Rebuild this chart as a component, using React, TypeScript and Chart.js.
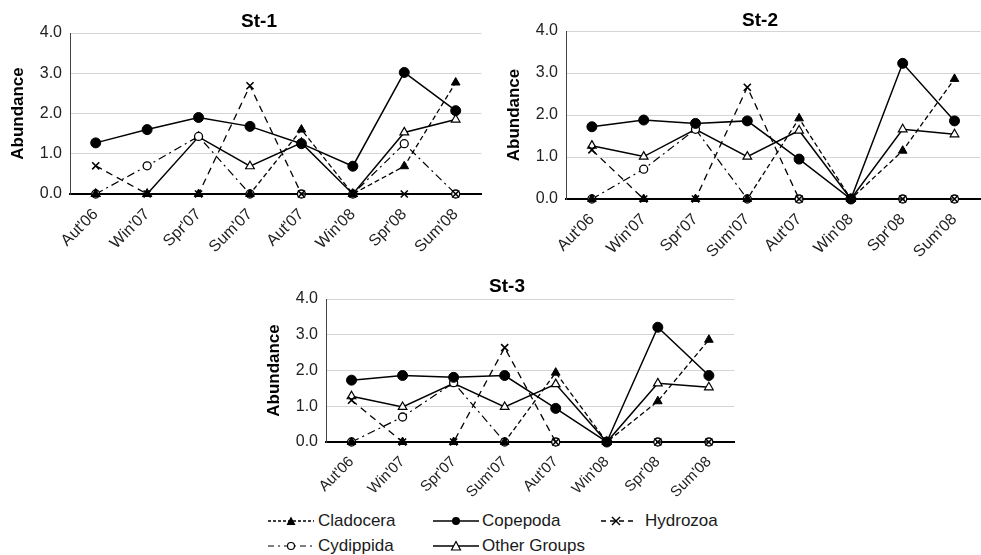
import React, { useEffect, useRef } from "react";
import { Chart, registerables } from "chart.js";
Chart.register(...registerables);

const seasons = ["Aut'06", "Win'07", "Spr'07", "Sum'07", "Aut'07", "Win'08", "Spr'08", "Sum'08"];
const seriesNames = ["Cladocera", "Copepoda", "Hydrozoa", "Cydippida", "Other Groups"];
const yMin = 0;
const yMax = 4;
const yStep = 1;

const st1Cladocera = [0, 0, 0, 0, 1.6, 0, 0.69, 2.77];
const st1Copepoda = [1.27, 1.6, 1.9, 1.68, 1.25, 0.69, 3.02, 2.07];
const st1Hydrozoa = [0.7, 0, 0, 2.69, 0, 0, 0, 0];
const st1Cydippida = [0, 0.7, 1.43, 0, 0, 0, 1.25, 0];
const st1Other = [0, 0, 1.42, 0.69, 1.27, 0, 1.53, 1.85];

const st2Cladocera = [0, 0, 0, 0, 1.92, 0, 1.15, 2.86];
const st2Copepoda = [1.72, 1.88, 1.8, 1.86, 0.95, 0, 3.23, 1.86];
const st2Hydrozoa = [1.17, 0, 0, 2.66, 0, 0, 0, 0];
const st2Cydippida = [0, 0.71, 1.66, 0, 0, 0, 0, 0];
const st2Other = [1.27, 1.01, 1.66, 1.01, 1.63, 0, 1.66, 1.54];

const st3Cladocera = [0, 0, 0, 0, 1.94, 0, 1.14, 2.86];
const st3Copepoda = [1.73, 1.86, 1.81, 1.86, 0.94, 0, 3.21, 1.86];
const st3Hydrozoa = [1.17, 0, 0, 2.64, 0, 0, 0, 0];
const st3Cydippida = [0, 0.7, 1.66, 0, 0, 0, 0, 0];
const st3Other = [1.28, 0.98, 1.64, 0.98, 1.62, 0, 1.64, 1.53];

const FONT = "'Liberation Sans', Arial, sans-serif";

function makeDatasets(clad: number[], cope: number[], hydro: number[], cydi: number[], other: number[]) {
  return [
    {
      label: seriesNames[0], data: clad, borderColor: "#000", backgroundColor: "#000", clip: false,
      borderWidth: 1.3, borderDash: [5, 3], pointStyle: "triangle", pointRadius: 5,
      pointBorderWidth: 1, pointBackgroundColor: "#000", pointBorderColor: "#000",
    },
    {
      label: seriesNames[1], data: cope, borderColor: "#000", backgroundColor: "#000", clip: false,
      borderWidth: 1.5, pointStyle: "circle", pointRadius: 5,
      pointBorderWidth: 1, pointBackgroundColor: "#000", pointBorderColor: "#000",
    },
    {
      label: seriesNames[2], data: hydro, borderColor: "#000", backgroundColor: "#000", clip: false,
      borderWidth: 1.3, borderDash: [7, 5], pointStyle: "crossRot", pointRadius: 5,
      pointBorderWidth: 1.6, pointBackgroundColor: "#000", pointBorderColor: "#000",
    },
    {
      label: seriesNames[3], data: cydi, borderColor: "#000", backgroundColor: "#fff", clip: false,
      borderWidth: 1.2, borderDash: [8, 4, 2, 4], pointStyle: "circle", pointRadius: 4,
      pointBorderWidth: 1.3, pointBackgroundColor: "#fff", pointBorderColor: "#000",
    },
    {
      label: seriesNames[4], data: other, borderColor: "#000", backgroundColor: "#fff", clip: false,
      borderWidth: 1.5, pointStyle: "triangle", pointRadius: 5,
      pointBorderWidth: 1.2, pointBackgroundColor: "#fff", pointBorderColor: "#000",
    },
  ];
}

const panelTitlePlugin = {
  id: "panelTitle",
  afterDraw(chart: any, _args: any, opts: any) {
    if (!opts || !opts.text) return;
    const ctx = chart.ctx;
    ctx.save();
    ctx.font = `bold 19px ${FONT}`;
    ctx.fillStyle = "#000";
    ctx.textAlign = "center";
    ctx.textBaseline = "middle";
    ctx.fillText(opts.text, opts.x, opts.y);
    ctx.restore();
  },
};

type PanelProps = {
  left: number; top: number; width: number; height: number; padTop: number; xAxisH: number;
  title: string; titleX: number; titleY: number; tickSize: number;
  clad: number[]; cope: number[]; hydro: number[]; cydi: number[]; other: number[];
};

function Panel(p: PanelProps) {
  const ref = useRef<HTMLCanvasElement>(null);
  useEffect(() => {
    if (!ref.current) return;
    const chart = new Chart(ref.current, {
      type: "line",
      data: { labels: seasons, datasets: makeDatasets(p.clad, p.cope, p.hydro, p.cydi, p.other) as any },
      plugins: [panelTitlePlugin as any],
      options: {
        animation: false,
        responsive: false,
        layout: { padding: { top: p.padTop, right: 0, bottom: 0, left: 0 } },
        plugins: {
          legend: { display: false },
          tooltip: { enabled: false },
          title: { display: false },
          panelTitle: { text: p.title, x: p.titleX, y: p.titleY },
        } as any,
        scales: {
          x: {
            offset: true,
            grid: { display: false, drawTicks: false },
            border: { display: true, color: "#000", width: 2 },
            ticks: {
              autoSkip: false, maxRotation: 45, minRotation: 45, padding: 11,
              color: "#222", font: { family: FONT, size: p.tickSize },
            },
            afterFit(scale: any) { scale.height = p.xAxisH; },
          },
          y: {
            min: yMin, max: yMax,
            grid: { color: "#d4d4d4", lineWidth: 1, drawTicks: false },
            border: { display: true, color: "#444", width: 1 },
            ticks: {
              stepSize: yStep, padding: 8, color: "#222",
              font: { family: FONT, size: 16 },
              callback: (v: any) => Number(v).toFixed(1),
            },
            title: {
              display: true, text: "Abundance", color: "#000",
              font: { family: FONT, size: 17, weight: "bold" }, padding: { top: 8, bottom: 0 },
            },
            afterFit(scale: any) { scale.width = 70; },
          },
        },
      } as any,
    });
    return () => chart.destroy();
  }, []);
  return (
    <canvas
      ref={ref}
      width={p.width}
      height={p.height}
      style={{ position: "absolute", left: p.left, top: p.top, width: p.width, height: p.height }}
    />
  );
}

function LegendMark({ kind }: { kind: number }) {
  const w = 46;
  const cy = 8;
  const c = 23;
  let line: any;
  let mark: any;
  if (kind === 0) {
    line = <line x1={0} y1={cy} x2={w} y2={cy} stroke="#000" strokeWidth={1.3} strokeDasharray="3,2" />;
    mark = <polygon points={`${c - 4.5},${cy + 4} ${c + 4.5},${cy + 4} ${c},${cy - 4.5}`} fill="#000" />;
  } else if (kind === 1) {
    line = <line x1={0} y1={cy} x2={w} y2={cy} stroke="#000" strokeWidth={1.5} />;
    mark = <circle cx={c} cy={cy} r={4} fill="#000" />;
  } else if (kind === 2) {
    line = <line x1={4} y1={cy} x2={40} y2={cy} stroke="#000" strokeWidth={1.3} strokeDasharray="5,4" />;
    mark = (
      <g stroke="#000" strokeWidth={1.5}>
        <line x1={15} y1={cy - 4} x2={23} y2={cy + 4} />
        <line x1={15} y1={cy + 4} x2={23} y2={cy - 4} />
      </g>
    );
  } else if (kind === 3) {
    line = <line x1={0} y1={cy} x2={w} y2={cy} stroke="#000" strokeWidth={1.2} strokeDasharray="6,4,2,4" />;
    mark = <circle cx={c} cy={cy} r={3.5} fill="#fff" stroke="#000" strokeWidth={1.2} />;
  } else {
    line = <line x1={0} y1={cy} x2={w} y2={cy} stroke="#000" strokeWidth={1.5} />;
    mark = <polygon points={`${c - 4.5},${cy + 4} ${c + 4.5},${cy + 4} ${c},${cy - 4.5}`} fill="#fff" stroke="#000" strokeWidth={1.2} />;
  }
  return (
    <svg width={w} height={16} style={{ display: "block" }}>
      {line}
      {kind === 3 ? <line x1={c - 3.5} y1={cy} x2={c + 3.5} y2={cy} stroke="#000" strokeWidth={1.2} /> : null}
      {mark}
    </svg>
  );
}

const legendPos = [
  { x: 268, y: 521, tx: 318 },
  { x: 433, y: 521, tx: 482 },
  { x: 597, y: 521, tx: 645 },
  { x: 268, y: 546, tx: 318 },
  { x: 433, y: 546, tx: 482 },
];

export default function App() {
  return (
    <div style={{ position: "absolute", left: 0, top: 0, width: 981, height: 555, overflow: "hidden", background: "#fff" }}>
      <Panel left={0} top={0} width={488} height={262} padTop={33} xAxisH={68} tickSize={16}
        title="St-1" titleX={259} titleY={22}
        clad={st1Cladocera} cope={st1Copepoda} hydro={st1Hydrozoa} cydi={st1Cydippida} other={st1Other} />
      <Panel left={496} top={0} width={491} height={267} padTop={31} xAxisH={68} tickSize={16}
        title="St-2" titleX={264} titleY={21}
        clad={st2Cladocera} cope={st2Copepoda} hydro={st2Hydrozoa} cydi={st2Cydippida} other={st2Other} />
      <Panel left={256} top={270} width={485} height={238} padTop={29} xAxisH={66} tickSize={15}
        title="St-3" titleX={251} titleY={17}
        clad={st3Cladocera} cope={st3Copepoda} hydro={st3Hydrozoa} cydi={st3Cydippida} other={st3Other} />
      {seriesNames.map((name, i) => (
        <div key={name} style={{ position: "absolute", left: legendPos[i].x, top: legendPos[i].y - 10, height: 20 }}>
          <div style={{ position: "absolute", left: 0, top: 2 }}>
            <LegendMark kind={i} />
          </div>
          <div style={{
            position: "absolute", left: legendPos[i].tx - legendPos[i].x, top: 0, whiteSpace: "nowrap",
            font: `17px ${FONT}`, lineHeight: "20px", color: "#1a1a1a",
          }}>{name}</div>
        </div>
      ))}
    </div>
  );
}
